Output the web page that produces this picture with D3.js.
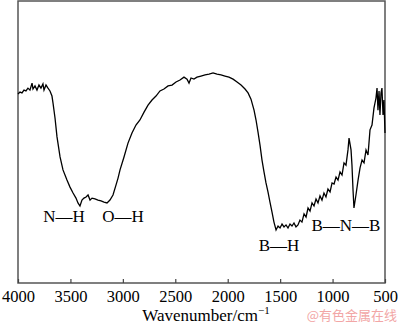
<!DOCTYPE html>
<html>
<head>
<meta charset="utf-8">
<script src="https://cdn.jsdelivr.net/npm/d3@7"></script>
<style>
  body { margin: 0; background: #fff; }
  svg text { font-family: "Liberation Serif", "Times New Roman", serif; }
</style>
</head>
<body>
<div id="chart--ir"></div>
<script>
// wavenumber (cm-1) and transmittance (a.u.)
const wavenumber = [
  4000, 3981, 3962, 3943, 3924, 3905, 3886, 3866, 3857, 3838, 3819, 3800, 3781, 3762, 3752, 3733, 3714, 3695, 3676,
  3666, 3647, 3628, 3599, 3571, 3533, 3504, 3475, 3447, 3428, 3409, 3390, 3371, 3351, 3332, 3313, 3294, 3266, 3237,
  3208, 3180, 3151, 3123, 3094, 3065, 3046, 3027, 2989, 2951, 2913, 2875, 2837, 2798, 2760, 2722, 2684, 2646, 2608,
  2569, 2531, 2493, 2455, 2417, 2388, 2369, 2350, 2322, 2293, 2255, 2216, 2178, 2140, 2102, 2064, 2026, 1988, 1949,
  1911, 1873, 1835, 1806, 1778, 1749, 1730, 1711, 1692, 1673, 1654, 1635, 1616, 1597, 1578, 1559, 1539, 1520, 1501,
  1482, 1463, 1444, 1425, 1406, 1387, 1368, 1349, 1330, 1311, 1292, 1272, 1253, 1234, 1215, 1196, 1177, 1158, 1139,
  1120, 1101, 1082, 1063, 1044, 1024, 1005, 986, 967, 948, 929, 910, 891, 872, 853, 843, 824, 815, 805, 796, 777, 757,
  738, 719, 700, 681, 662, 643, 624, 605, 586, 576, 567, 557, 548, 538, 529, 519, 510, 500
]
const transmittance = [
  67.0, 67.7, 67.4, 68.4, 68.1, 69.1, 68.4, 70.9, 68.8, 69.9, 68.4, 70.2, 69.1, 70.6, 68.4, 70.2, 69.1, 68.1, 66.3,
  63.8, 58.5, 51.8, 44.7, 40.1, 36.5, 34.0, 31.9, 30.1, 28.4, 27.3, 29.4, 30.1, 30.5, 31.2, 29.4, 30.1, 29.8, 29.4,
  29.1, 28.7, 28.4, 29.4, 31.2, 34.8, 37.2, 40.1, 44.7, 49.6, 53.2, 56.0, 57.8, 60.6, 63.1, 64.9, 66.3, 68.1, 68.8,
  69.9, 70.2, 71.3, 72.0, 73.0, 72.3, 70.9, 72.7, 72.3, 73.0, 73.4, 73.8, 74.1, 74.5, 74.1, 73.8, 73.4, 73.0, 72.3,
  71.3, 70.2, 68.8, 67.4, 65.2, 61.3, 57.8, 53.5, 48.9, 43.6, 39.4, 35.5, 32.3, 28.7, 25.2, 21.6, 18.8, 20.2, 19.5,
  20.9, 19.9, 20.6, 19.5, 20.9, 20.2, 21.3, 19.9, 20.6, 22.3, 21.6, 24.5, 23.4, 26.6, 25.5, 28.4, 27.3, 29.8, 28.4,
  30.9, 29.4, 31.9, 30.5, 33.3, 32.3, 35.5, 35.1, 37.6, 36.5, 39.4, 38.3, 42.6, 41.8, 47.2, 51.4, 47.2, 41.8, 33.0,
  26.6, 31.2, 36.5, 40.8, 43.6, 42.6, 47.2, 45.4, 54.3, 56.0, 62.1, 65.6, 69.1, 61.3, 68.1, 59.6, 67.4, 69.1, 59.6,
  64.9, 53.2
]

// tick labels and band assignments
const xTicks = [4000, 3500, 3000, 2500, 2000, 1500, 1000, 500]
const bandNames = ["N\u2014H", "O\u2014H", "B\u2014H", "B\u2014N\u2014B"]
const bandPos = [3561, 2999, 1511, 872]
const bandLevel = [23.0, 23.0, 12.8, 19.9]

const width = 400, height = 324
const margin = { left: 18, right: 15, top: 1, bottom: 41 }

const svg = d3.select('#chart--ir').append('svg')
    .attr('width', width)
    .attr('height', height)

const xScale = d3.scaleLinear()
    .domain([4000, 500])
    .range([margin.left, width - margin.right])

const yScale = d3.scaleLinear()
    .domain([0, 100])
    .range([height - margin.bottom, margin.top])

/*
 * Frame + bottom axis (ticks point inward)
 */
svg.append('rect')
    .attr('x', margin.left)
    .attr('y', margin.top)
    .attr('width', width - margin.left - margin.right)
    .attr('height', height - margin.top - margin.bottom)
    .style('fill', 'none')
    .style('stroke', '#555')
    .style('stroke-width', 1.5)

const xAxis = d3.axisBottom(xScale)
    .tickValues(xTicks)
    .tickFormat(d3.format('d'))
    .tickSizeInner(-4)
    .tickSizeOuter(0)
    .tickPadding(7)

const gx = svg.append('g')
    .attr('class', 'x axis')
    .attr('transform', `translate(0, ${height - margin.bottom})`)
    .call(xAxis)

gx.select('.domain').remove()
gx.selectAll('line').style('stroke', '#444').style('stroke-width', 1.2)
gx.selectAll('text')
    .style('font-size', '16.5px')
    .style('fill', '#000')
    .style('font-family', '"Liberation Serif", "Times New Roman", serif')

const xLabel = svg.append('text')
    .attr('x', 206)
    .attr('y', 321)
    .attr('text-anchor', 'middle')
    .style('font-size', '17px')
    .text('Wavenumber/cm')
xLabel.append('tspan')
    .attr('dy', -7)
    .style('font-size', '11px')
    .text('\u22121')

/*
 * The spectrum line
 */
const line = d3.line()
    .x((d, i) => xScale(wavenumber[i]))
    .y(d => yScale(d))

svg.append('path')
    .datum(transmittance)
    .style('stroke', '#000')
    .style('stroke-width', 1.3)
    .style('fill', 'none')
    .attr('d', line)

/* band labels */
svg.selectAll('.band')
    .data(bandNames)
    .enter()
    .append('text')
    .attr('class', 'band')
    .attr('x', (d, i) => xScale(bandPos[i]))
    .attr('y', (d, i) => yScale(bandLevel[i]))
    .attr('text-anchor', 'middle')
    .attr('dominant-baseline', 'middle')
    .style('font-size', '17px')
    .text(d => d)

/* watermark */
svg.append('text')
    .attr('x', 397)
    .attr('y', 320)
    .attr('text-anchor', 'end')
    .style('font-family', '"Noto Sans CJK SC", sans-serif')
    .style('font-size', '13px')
    .style('fill', '#f2a6a6')
    .text('@有色金属在线')
</script>
</body>
</html>
